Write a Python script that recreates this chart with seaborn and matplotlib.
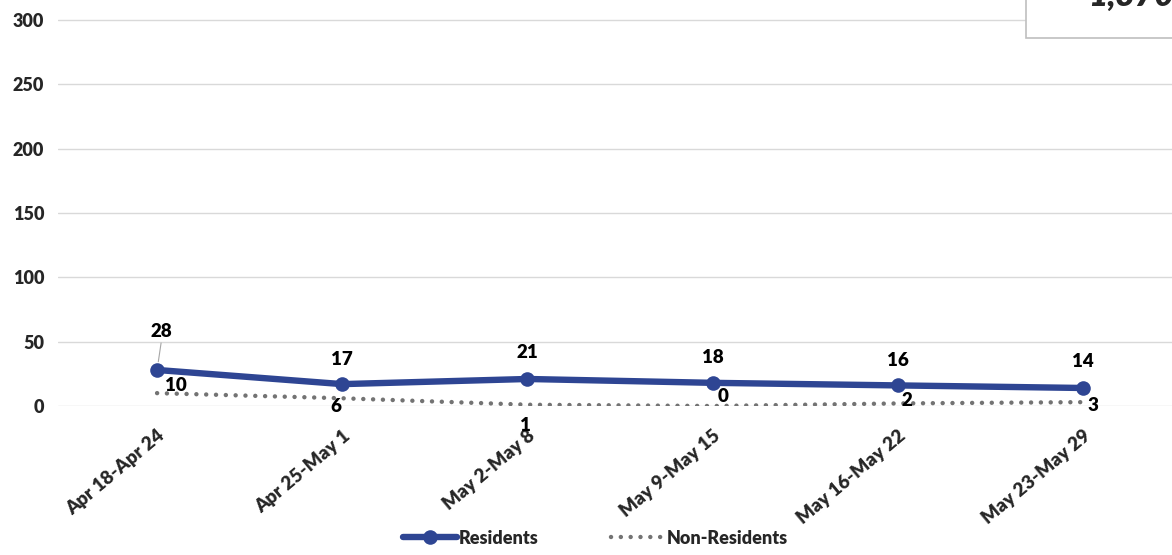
import matplotlib
matplotlib.use("Agg")
import matplotlib.pyplot as plt
from matplotlib.patches import Rectangle
import pandas as pd
import seaborn as sns

# Data
weeks = ["Apr 18-Apr 24", "Apr 25-May 1", "May 2-May 8",
         "May 9-May 15", "May 16-May 22", "May 23-May 29"]
residents = [28, 17, 21, 18, 16, 14]
non_residents = [10, 6, 1, 0, 2, 3]
yticks = [0, 50, 100, 150, 200, 250, 300]
total_label = "1,370"

# Label offsets in pixels (dx, dy)
res_offsets = [(4, 38), (0, 25), (0, 26), (0, 25), (0, 25), (0, 26)]
non_offsets = [(19, 8), (-6, -8), (-2, -21), (10, 9), (9, 3), (10, -3)]

df = pd.DataFrame({"week": weeks, "Residents": residents,
                   "Non-Residents": non_residents})

sns.set_theme(style="white")
plt.rcParams["font.family"] = ["Lato", "DejaVu Sans"]

fig = plt.figure(figsize=(11.72, 5.55), dpi=100)
ax = fig.add_axes([58 / 1172, (555 - 406) / 555, 1 - 58 / 1172, 406 / 555])

blue = "#2E4593"
grey = "#737373"

sns.lineplot(data=df, x="week", y="Non-Residents", ax=ax, color=grey,
             linewidth=3.2, linestyle=(0, (0.01, 2.2)),
             label="Non-Residents", zorder=2)
sns.lineplot(data=df, x="week", y="Residents", ax=ax, color=blue,
             linewidth=4.6, marker="o", markersize=10.5, markeredgewidth=0,
             label="Residents", zorder=3)
ax.lines[0].set_dash_capstyle("round")

# data labels
lab_style = dict(ha="center", va="center", fontsize=13.5, fontweight="heavy",
                 color="black", zorder=5)
for i, v in enumerate(residents):
    dx, dy = res_offsets[i]
    ax.annotate(str(v), (i, v), xytext=(dx, dy), textcoords="offset pixels",
                **lab_style)
ax.annotate("", (0, residents[0]), xytext=(4, 27), textcoords="offset pixels",
            arrowprops=dict(arrowstyle="-", color="#A6A6A6", lw=0.8,
                            shrinkA=0, shrinkB=6))
for i, v in enumerate(non_residents):
    dx, dy = non_offsets[i]
    ax.annotate(str(v), (i, v), xytext=(dx, dy), textcoords="offset pixels",
                **lab_style)

ax.set_xlim(-0.535, 5.48)
ax.set_ylim(0, 315.5)
ax.set_yticks(yticks)
ax.set_yticklabels([str(t) for t in yticks], fontsize=13, fontweight="heavy")
ax.tick_params(axis="y", length=0, pad=10)
ax.tick_params(axis="x", length=0, pad=15)
ax.set_xticks(range(len(weeks)))
ax.set_xticklabels(weeks, rotation=40, ha="right", rotation_mode="anchor",
                   fontsize=13.5, fontweight="heavy")
ax.set_xlabel("")
ax.set_ylabel("")
ax.yaxis.grid(True, color="#D9D9D9", linewidth=1)
ax.xaxis.grid(False)
for s in ax.spines.values():
    s.set_visible(False)
ax.set_axisbelow(True)

ax.get_legend().remove()
handles, labels = ax.get_legend_handles_labels()
order = [labels.index("Residents"), labels.index("Non-Residents")]
leg = fig.legend([handles[k] for k in order], [labels[k] for k in order],
                 loc="lower center", bbox_to_anchor=(0.508, -0.014), ncol=2,
                 frameon=False, handlelength=3.0, handletextpad=0.1,
                 columnspacing=4.0, prop={"size": 13, "weight": "heavy"})
for ln in leg.get_lines():
    ln.set_dash_capstyle("round")

# top-right total box, cut off by the image edge
fig.add_artist(Rectangle((1026 / 1172, (555 - 38) / 555), 0.2, 0.2,
                         transform=fig.transFigure, facecolor="white",
                         edgecolor="#BFBFBF", linewidth=1.2, zorder=10))
fig.text(1088 / 1172, (555 - 6) / 555, total_label, fontsize=24,
         fontweight="heavy", fontstyle="italic", ha="left", va="baseline",
         zorder=11)

fig.savefig("out.png", dpi=100)
